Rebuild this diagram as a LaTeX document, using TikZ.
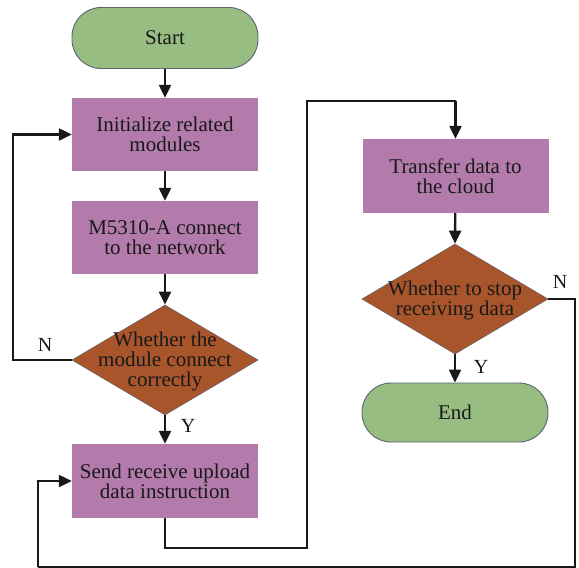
\documentclass[tikz,border=0pt]{standalone}
\usepackage{fontspec}
\setmainfont{Liberation Serif}
\usetikzlibrary{shapes.geometric,arrows.meta}
\definecolor{termgreen}{HTML}{98BD82}
\definecolor{procpurple}{HTML}{B37BAB}
\definecolor{decbrown}{HTML}{A9552C}
\definecolor{edgegray}{HTML}{5C6470}
\begin{document}
\begin{tikzpicture}[x=1pt,y=-1pt,
  txt/.style={font=\fontsize{21}{20}\selectfont, align=center, text=black!90},
  terminal/.style={txt, draw=edgegray, line width=0.9pt, fill=termgreen,
    minimum width=186pt, rounded corners=29pt},
  procbox/.style={txt, fill=procpurple, minimum width=186pt, minimum height=73pt},
  decision/.style={diamond, draw=edgegray!70!decbrown, line width=0.7pt, fill=decbrown,
    minimum width=186pt, minimum height=110pt, inner sep=0pt},
  flow/.style={line width=2.3pt, black!90, -{Triangle[length=13pt,width=12pt]}},
  plain/.style={line width=2.3pt, black!90},
  tag/.style={font=\fontsize{20}{20}\selectfont, text=black!90}]
\useasboundingbox (0,0) rectangle (579,568);

% left column
\node[terminal, minimum height=61pt] (start) at (165,38) {Start};
\node[procbox] (init) at (165,134.5) {Initialize related\\modules};
\node[procbox] (net) at (165,237.5) {M5310-A connect\\to the network};
\node[decision] (chk) at (165,360) {};
\node[txt] (chktext) at (165,361) {Whether the\\module connect\\correctly};
\node[procbox, minimum height=74pt] (send) at (165,481) {Send receive upload\\data instruction};

% right column
\node[procbox, minimum height=74pt] (cloud) at (455.5,176) {Transfer data to\\the cloud};
\node[decision] (stop) at (455,299) {};
\node[txt] (stoptext) at (455,300) {Whether to stop\\receiving data};
\node[terminal, minimum height=59pt] (finish) at (455,412.5) {End};

% routing points
\coordinate (lbend) at (13,0);
\coordinate (sdown) at (165,548);
\coordinate (mbot) at (307,548);
\coordinate (mtop) at (307,101);
\coordinate (rtop) at (455.5,101);
\coordinate (rright) at (575,299);
\coordinate (rbot) at (575,567);
\coordinate (lbot) at (38,567);

% connectors
\draw[flow] (start) -- (init);
\draw[flow] (init) -- (net);
\draw[flow] (net) -- (chk.north);
\draw[flow] (chk.south) -- (send);
\draw[flow] (chk.west) -| (lbend |- chk.west) |- (init.west);
\draw[plain] (send.south) -- (sdown) -- (mbot) -- (mtop) -- (rtop);
\draw[flow] (rtop) -- (cloud.north);
\draw[flow] (cloud) -- (stop.north);
\draw[flow] (stop.south) -- (finish);
\draw[plain] (stop.east) -- (rright) -- (rbot) -- (lbot);
\draw[flow] (lbot) |- (send.west);

% branch labels
\node[tag] (n1) at (45,345) {N};
\node[tag] (y1) at (188,426) {Y};
\node[tag] (n2) at (560,282) {N};
\node[tag] (y2) at (481,367) {Y};
\end{tikzpicture}
\end{document}
